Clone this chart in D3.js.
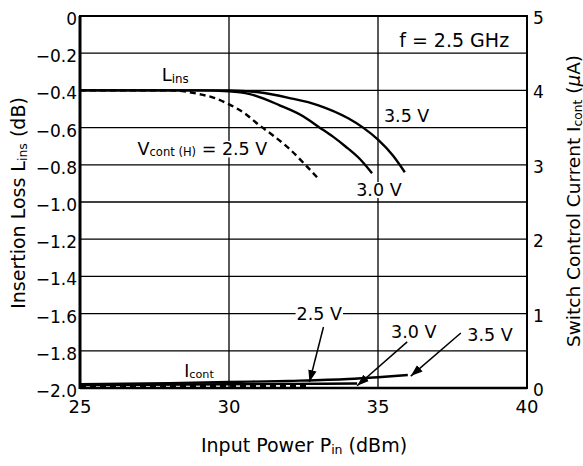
<!DOCTYPE html>
<html>
<head>
<meta charset="utf-8">
<script src="https://cdn.jsdelivr.net/npm/d3@7"></script>
<style>
  body { margin: 0; background: #fff; }
  text { font-family: "DejaVu Sans", Verdana, sans-serif; fill: #000; }
</style>
</head>
<body>
<svg id="chart" width="583" height="466"></svg>
<script>
// insertion loss vs input power, one array per control voltage
const pin25 = [25, 28, 28.5, 29, 29.5, 30, 30.5, 31, 31.5, 32, 32.5, 33];
const lins25 = [-0.40, -0.40, -0.405, -0.42, -0.44, -0.475, -0.52, -0.585, -0.645, -0.71, -0.79, -0.875];
const pin30 = [25, 29, 30, 30.7, 31.7, 32.5, 33, 33.5, 33.9, 34.4, 34.8];
const lins30 = [-0.40, -0.40, -0.405, -0.42, -0.48, -0.54, -0.595, -0.65, -0.70, -0.77, -0.845];
const pin35 = [25, 30, 31, 32, 33, 34, 34.5, 35, 35.5, 35.9];
const lins35 = [-0.40, -0.40, -0.41, -0.44, -0.48, -0.55, -0.60, -0.665, -0.75, -0.84];

// switch control current (uA)
const ipin25 = [25, 30, 32.7];
const icont25 = [0.02, 0.025, 0.03];
const ipin30 = [25, 30, 32, 34.3];
const icont30 = [0.04, 0.05, 0.055, 0.06];
const ipin35 = [25, 28, 30, 32, 34, 35, 36];
const icont35 = [0.05, 0.065, 0.08, 0.095, 0.12, 0.145, 0.175];

const xTicks = [25, 30, 35, 40];
const yTicks = [0, -0.2, -0.4, -0.6, -0.8, -1.0, -1.2, -1.4, -1.6, -1.8, -2.0];
const rTicks = [0, 1, 2, 3, 4, 5];

// current annotations: label, label pos, arrow start, arrow tip (data units)
const iNotes = [
  { label: "2.5 V", at: [33.03, 0.91], from: [33.17, 0.82], to: [32.7, 0.08] },
  { label: "3.0 V", at: [36.2, 0.67], from: [35.98, 0.62], to: [34.3, 0.03] },
  { label: "3.5 V", at: [38.76, 0.63], from: [37.78, 0.74], to: [36.1, 0.16] }
];

const svg = d3.select("#chart");
const pL = 80, pT = 16, pR = 527, pB = 388;

const x = d3.scaleLinear().domain([25, 40]).range([pL, pR]);
const y = d3.scaleLinear().domain([-2, 0]).range([pB, pT]);
const yR = d3.scaleLinear().domain([0, 5]).range([pB, pT]);

svg.append("defs").append("marker")
    .attr("id", "arrow")
    .attr("viewBox", "0 0 10 10")
    .attr("refX", 10).attr("refY", 5)
    .attr("markerWidth", 12).attr("markerHeight", 12)
    .attr("markerUnits", "userSpaceOnUse")
    .attr("orient", "auto")
  .append("path")
    .attr("d", "M0,1.5 L10,5 L0,8.5 Z")
    .attr("fill", "#000");

// grid
svg.append("g").selectAll("line").data(yTicks.slice(1, -1)).join("line")
    .attr("x1", pL).attr("x2", pR)
    .attr("y1", d => y(d)).attr("y2", d => y(d))
    .attr("stroke", "#000").attr("stroke-width", 1.3);
svg.append("g").selectAll("line").data(xTicks.slice(1, -1)).join("line")
    .attr("x1", d => x(d)).attr("x2", d => x(d))
    .attr("y1", pT).attr("y2", pB)
    .attr("stroke", "#000").attr("stroke-width", 1.3);

// frame
svg.append("rect")
    .attr("x", pL).attr("y", pT)
    .attr("width", pR - pL).attr("height", pB - pT)
    .attr("fill", "none").attr("stroke", "#000").attr("stroke-width", 2);
svg.append("line").attr("x1", pL).attr("x2", pL).attr("y1", pT).attr("y2", pB + 1)
    .attr("stroke", "#000").attr("stroke-width", 3);
svg.append("line").attr("x1", pL).attr("x2", pR).attr("y1", pB).attr("y2", pB)
    .attr("stroke", "#000").attr("stroke-width", 2.5);

// tick labels
svg.append("g").selectAll("text").data(yTicks).join("text")
    .attr("x", pL - 3).attr("y", d => y(d) + 9)
    .attr("text-anchor", "end").attr("font-size", 17)
    .text(d => d === 0 ? "0" : d3.format(".1f")(d).replace("-", "\u2212"));
svg.append("g").selectAll("text").data(xTicks).join("text")
    .attr("x", d => x(d)).attr("y", 413)
    .attr("text-anchor", "middle").attr("font-size", 18)
    .text(d => d);
svg.append("g").selectAll("text").data(rTicks).join("text")
    .attr("x", pR + 6).attr("y", d => yR(d) + 8)
    .attr("font-size", 17)
    .text(d => d);

// helper for text with subscript
function label(sel, parts, size) {
  parts.forEach(p => {
    const t = sel.append("tspan").text(p[0]);
    if (p[1]) t.attr("font-size", size * 0.66).attr("dy", 1.5);
    else if (p[2]) t.attr("font-size", size).attr("dy", -1.5);
  });
}

// axis titles
const yt = svg.append("text")
    .attr("transform", `translate(25,203) rotate(-90)`)
    .attr("text-anchor", "middle").attr("font-size", 19);
label(yt, [["Insertion Loss  L"], ["ins", true], [" (dB)", false, true]], 19);

const rt = svg.append("text")
    .attr("transform", `translate(580,201) rotate(-90)`)
    .attr("text-anchor", "middle").attr("font-size", 18.5);
label(rt, [["Switch Control Current  I"], ["cont", true], [" (", false, true]], 18.5);
rt.append("tspan").attr("font-style", "italic").text("\u03bc");
rt.append("tspan").text("A)");

const xt = svg.append("text")
    .attr("x", 304).attr("y", 452)
    .attr("text-anchor", "middle").attr("font-size", 19);
label(xt, [["Input Power  P"], ["in", true], [" (dBm)", false, true]], 19);

// curves
const line = d3.line().x(d => x(d[0])).y(d => y(d[1])).curve(d3.curveMonotoneX);
const lineI = d3.line().x(d => x(d[0])).y(d => yR(d[1])).curve(d3.curveMonotoneX);

const lossSeries = [
  { p: pin25, v: lins25, dash: "6,4" },
  { p: pin30, v: lins30, dash: null },
  { p: pin35, v: lins35, dash: null }
];
lossSeries.forEach(s => {
  svg.append("path")
      .attr("d", line(d3.zip(s.p, s.v)))
      .attr("fill", "none").attr("stroke", "#000").attr("stroke-width", 2.4)
      .attr("stroke-dasharray", s.dash);
});

const curSeries = [
  { p: ipin25, v: icont25, dash: "6,4" },
  { p: ipin30, v: icont30, dash: null },
  { p: ipin35, v: icont35, dash: null }
];
curSeries.forEach(s => {
  svg.append("path")
      .attr("d", lineI(d3.zip(s.p, s.v)))
      .attr("fill", "none").attr("stroke", "#000").attr("stroke-width", 2.4)
      .attr("stroke-dasharray", s.dash);
});

// text labels with white backing so the grid breaks around them
function note(px, py, parts, size, anchor) {
  const g = svg.append("g");
  const t = g.append("text").attr("x", px).attr("y", py)
      .attr("font-size", size).attr("text-anchor", anchor || "start");
  label(t, parts, size);
  const b = t.node().getBBox();
  g.insert("rect", "text")
      .attr("x", b.x - 1).attr("y", b.y + 2)
      .attr("width", b.width + 2).attr("height", b.height - 4)
      .attr("fill", "#fff");
  return g;
}

note(x(39.4), y(-0.167), [["f = 2.5 GHz"]], 19, "end");
note(x(27.74), y(-0.35), [["L"], ["ins", true]], 18);
note(x(26.93), y(-0.747), [["V"], ["cont (H)", true], [" = 2.5 V", false, true]], 17.5);
note(x(35.2), y(-0.568), [["3.5 V"]], 17.5);
note(x(34.27), y(-0.968), [["3.0 V"]], 17.5);
note(x(28.5), y(-1.94), [["I"], ["cont", true]], 17);

iNotes.forEach(n => {
  svg.append("line")
      .attr("x1", x(n.from[0])).attr("y1", yR(n.from[1]))
      .attr("x2", x(n.to[0])).attr("y2", yR(n.to[1]))
      .attr("stroke", "#000").attr("stroke-width", 1.5)
      .attr("marker-end", "url(#arrow)");
  note(x(n.at[0]), yR(n.at[1]), [[n.label]], 17.5, "middle");
});
</script>
</body>
</html>
